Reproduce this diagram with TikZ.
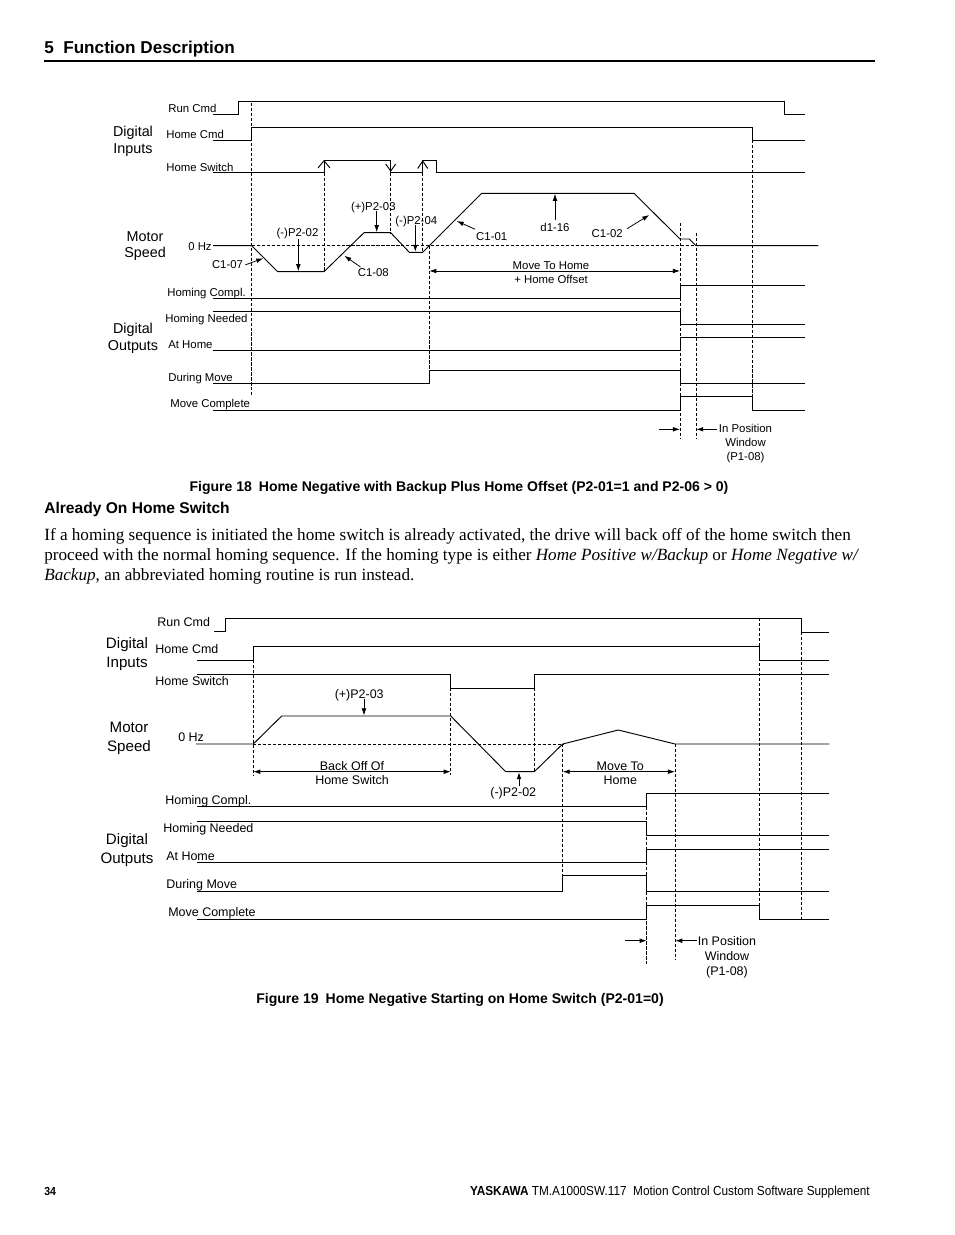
\documentclass[tikz,border=0pt]{standalone}
\usepackage{fontspec}
\setmainfont{Liberation Serif}
\setsansfont{Liberation Sans}
\newfontfamily\narrowsf[FakeStretch=0.9]{Liberation Sans}
\usetikzlibrary{arrows.meta}

\begin{document}
\begin{tikzpicture}[x=0.6414pt, y=-0.6414pt,
    every node/.append style={yshift=-1pt},
    sig/.style={line width=0.6pt, line join=miter},
    guide/.style={line width=0.45pt, dash pattern=on 2pt off 1.2pt},
    ann/.style={line width=0.5pt, -{Latex[length=4.5pt,width=3pt]}},
    dimline/.style={line width=0.5pt, {Latex[length=4.5pt,width=3pt]}-{Latex[length=4.5pt,width=3pt]}},
    lblA/.style={font=\sffamily\fontsize{7.3}{9}\selectfont, inner sep=0pt, align=center},
    lblB/.style={font=\sffamily\fontsize{8}{9.6}\selectfont, inner sep=0pt, align=center},
    grpA/.style={font=\sffamily\fontsize{9.2}{10.9}\selectfont, inner sep=0pt, align=center},
    grpB/.style={font=\sffamily\fontsize{9.7}{12.2}\selectfont, inner sep=0pt, align=center},
    body/.style={font=\fontsize{11}{13}\selectfont, inner sep=0pt, anchor=base west}]

  \fill[white] (0,0) rectangle (954,1235);
  \useasboundingbox (0,0) rectangle (954,1235);

  % Page header
  \node[font=\sffamily\bfseries\fontsize{11}{13}\selectfont, inner sep=0pt, anchor=mid west, yshift=-1pt] (title) at (44,47) {5\hspace{0.55em}Function Description};
  \draw[line width=1.7pt] (44,61) -- (875,61);

  % ================= Figure 18 =================
  % Signal names
  \node[lblA, anchor=mid west] (runA) at (168,107) {Run Cmd};
  \node[lblA, anchor=mid west] (hcmdA) at (166,133) {Home Cmd};
  \node[lblA, anchor=mid west] (hswA) at (166,166) {Home Switch};
  \node[lblA, anchor=mid east] (zeroA) at (212,245) {0 Hz};
  \node[lblA, anchor=mid west] (complA) at (167,291) {Homing Compl.};
  \node[lblA, anchor=mid west] (needA) at (165,317) {Homing Needed};
  \node[lblA, anchor=mid west] (athomeA) at (168,343) {At Home};
  \node[lblA, anchor=mid west] (duringA) at (168,376) {During Move};
  \node[lblA, anchor=mid west] (mcompA) at (170,402) {Move Complete};
  \node[grpA] (inA) at (133,139.5) {Digital\\Inputs};
  \node[grpA] (speedA) at (145,244.5) {Motor\\Speed};
  \node[grpA] (outA) at (133,336.5) {Digital\\Outputs};

  % Inputs
  \draw[sig] (212.7,114) -| (238.3,101.7) -| (784.3,114) -- (805,114);
  \draw[sig] (212.7,140) -| (251.7,127.7) -| (752.3,140) -- (805,140);
  \draw[sig] (212.7,172.7) -| (324,160.7) -| (390.7,172.7) -| (422.7,160.7) -| (436,172.7) -- (805,172.7);
  % edge marks on the home switch
  \draw[sig] (318,168) -- (324,160.7) -- (330,168);
  \draw[sig] (385.7,164) -- (390.7,171) -- (395.7,164);
  \draw[sig] (417.7,168.5) -- (422.7,161) -- (427.7,168.5);

  % Motor speed
  \draw[guide] (251.7,245.7) -- (696,245.7);
  \draw[sig] (213,245.7) -- (251.7,245.7) -- (277.7,271.7) -- (324,271.7) -- (364,232.7) -- (390.7,232.7)
     -- (409.3,252.3) -- (422.7,252.3) -- (481.7,193.3) -- (634,193.3) -- (680,239) -- (689.3,239)
     -- (696,245.7) -- (818.3,245.7);

  % Outputs
  \draw[sig] (212.7,298.3) -| (680,285) -- (805,285);
  \draw[sig] (212.7,311) -| (680,324) -- (805,324);
  \draw[sig] (212.7,350) -| (680,337.3) -- (805,337.3);
  \draw[sig] (212.7,383.3) -| (429.3,370) -| (680,383.3) -- (805,383.3);
  \draw[sig] (212.7,410) -| (680,396.7) -| (752.3,410) -- (805,410);

  % Guide lines
  \draw[guide] (251.7,103) -- (251.7,395);
  \draw[guide] (324,172.7) -- (324,271.7);
  \draw[guide] (390.7,172.7) -- (390.7,232.7);
  \draw[guide] (422.7,172.7) -- (422.7,252.3);
  \draw[guide] (429.3,245.7) -- (429.3,370);
  \draw[guide] (680,223) -- (680,439);
  \draw[guide] (696,233) -- (696,439);
  \draw[guide] (752.3,140) -- (752.3,410);

  % Parameter labels
  \node[lblA] (p202A) at (297.5,232.3) {(-)P2-02};
  \node[lblA] (p203A) at (373.3,205.5) {(+)P2-03};
  \node[lblA] (p204A) at (416.3,219.7) {(-)P2-04};
  \node[lblA] (c107A) at (227.5,263.3) {C1-07};
  \node[lblA] (c108A) at (373.3,270.8) {C1-08};
  \node[lblA] (c101A) at (491.7,235) {C1-01};
  \node[lblA] (d116A) at (555,225.8) {d1-16};
  \node[lblA] (c102A) at (607.2,232.5) {C1-02};
  \draw[ann] (298.3,239) -- (298.3,271.2);
  \draw[ann] (376.7,211) -- (376.7,232.2);
  \draw[ann] (415.3,225.5) -- (415.3,251.8);
  \draw[ann] (c107A.east) ++(2,0) -- (263.3,258.3);
  \draw[ann] (c108A.north west) ++(3,-1) -- (344.3,255.7);
  \draw[ann] (c101A.north west) ++(-1,-3) -- (456.7,221);
  \draw[ann] (d116A.north) ++(0,-3) -- (555,193.8);
  \draw[ann] (c102A.north east) ++(4,-1) -- (649.3,215);

  % Move to home span
  \draw[dimline] (429.3,271) -- (680,271);
  \node[lblA] (mvA) at (551,270.6) {Move To Home\\+ Home Offset};

  % In position window
  \draw[ann] (659,429.3) -- (680,429.3);
  \draw[ann] (716.7,429.3) -- (696.2,429.3);
  \node[lblA, font=\sffamily\fontsize{7.3}{8.9}\selectfont] (winA) at (745.5,442.2) {In Position\\Window\\(P1-08)};

  % Caption
  \node[font=\sffamily\bfseries\fontsize{9}{11}\selectfont, inner sep=0pt] (capA) at (459,486) {Figure 18\hspace{0.5em}Home Negative with Backup Plus Home Offset (P2-01=1 and P2-06 > 0)};

  % ================= Text =================
  \node[font=\sffamily\bfseries\fontsize{10}{12}\selectfont, inner sep=0pt, anchor=mid west] (sect) at (44,508) {Already On Home Switch};
  \node[body] (l1) at (44,539) {If a homing sequence is initiated the home switch is already activated, the drive will back off of the home switch then};
  \node[body] (l2) at (44,559) {proceed with the normal homing sequence. If the homing type is either \textit{Home Positive w/Backup} or \textit{Home Negative w/}};
  \node[body] (l3) at (44,579) {\textit{Backup}, an abbreviated homing routine is run instead.};

  % ================= Figure 19 =================
  % Signal names
  \node[lblB, anchor=mid west] (runB) at (157,621) {Run Cmd};
  \node[lblB, anchor=mid west] (hcmdB) at (155,648) {Home Cmd};
  \node[lblB, anchor=mid west] (hswB) at (155,680) {Home Switch};
  \node[lblB, anchor=mid west] (zeroB) at (178,736) {0 Hz};
  \node[lblB, anchor=mid west] (complB) at (165,799) {Homing Compl.};
  \node[lblB, anchor=mid west] (needB) at (163,827) {Homing Needed};
  \node[lblB, anchor=mid west] (athomeB) at (166,855) {At Home};
  \node[lblB, anchor=mid west] (duringB) at (166,883) {During Move};
  \node[lblB, anchor=mid west] (mcompB) at (168,911) {Move Complete};
  \node[grpB] (inB) at (127,652.5) {Digital\\Inputs};
  \node[grpB] (speedB) at (129,736.5) {Motor\\Speed};
  \node[grpB] (outB) at (127,848.5) {Digital\\Outputs};

  % Inputs
  \draw[sig] (214,631.7) -| (225,618.3) -| (801.7,632.3) -- (829.3,632.3);
  \draw[sig] (197.3,660) -| (253.3,646) -| (759,660) -- (829.3,660);
  \draw[sig] (197.3,674) -| (450.7,688.3) -| (534.3,674) -- (829.3,674);

  % Motor speed
  \draw[guide] (253.3,744) -- (562.7,744);
  \draw[sig] (196,744) -- (253.3,744) -- (281.7,716) -- (450.7,716) -- (505.7,771.7) -- (534.3,771.7)
     -- (562.7,744) -- (618.3,730) -- (675,744) -- (829.3,744);

  % Outputs
  \draw[sig] (196.7,806.7) -| (646.7,793.3) -- (829.3,793.3);
  \draw[sig] (196.7,821) -| (646.7,835) -- (829.3,835);
  \draw[sig] (196.7,862.3) -| (646.7,849) -- (829.3,849);
  \draw[sig] (196.7,891) -| (562.7,875.7) -| (646.7,891) -- (829.3,891);
  \draw[sig] (196.7,919) -| (646.7,905.7) -| (759,919) -- (829.3,919);

  % Guide lines
  \draw[guide] (253.3,660) -- (253.3,775);
  \draw[guide] (450.7,688.3) -- (450.7,775);
  \draw[guide] (534.3,688.3) -- (534.3,771.7);
  \draw[guide] (562.7,744) -- (562.7,875.7);
  \draw[guide] (646.7,806.7) -- (646.7,965);
  \draw[guide] (675,744) -- (675,960);
  \draw[guide] (759,618.3) -- (759,919);
  \draw[guide] (801.7,632.3) -- (801.7,920);

  % Parameter labels
  \node[lblB] (p203B) at (359.2,694) {(+)P2-03};
  \node[lblB] (p202B) at (513.3,791.7) {(-)P2-02};
  \draw[ann] (364,699.3) -- (364,715.5);
  \draw[ann] (519,786) -- (519,772.2);

  % Spans
  \draw[dimline] (253.3,771.7) -- (450.7,771.7);
  \node[lblB, font=\sffamily\fontsize{8}{9}\selectfont] (backB) at (352,771.3) {Back Off Of\\Home Switch};
  \draw[dimline] (562.7,771.7) -- (675,771.7);
  \node[lblB, font=\sffamily\fontsize{8}{9}\selectfont] (mvB) at (620.3,771.3) {Move To\\Home};

  % In position window
  \draw[ann] (625,940.7) -- (646.7,940.7);
  \draw[ann] (696.7,940.7) -- (675.3,940.7);
  \node[lblB, font=\sffamily\fontsize{8}{9.6}\selectfont] (winB) at (727,956) {In Position\\Window\\(P1-08)};

  % Caption
  \node[font=\sffamily\bfseries\fontsize{9}{11}\selectfont, inner sep=0pt] (capB) at (460,998) {Figure 19\hspace{0.5em}Home Negative Starting on Home Switch (P2-01=0)};

  % Page footer
  \node[font=\narrowsf\bfseries\fontsize{7.5}{9}\selectfont, inner sep=0pt, anchor=mid west] (pageno) at (44,1190) {34};
  \node[font=\narrowsf\fontsize{8.4}{10}\selectfont, inner sep=0pt, anchor=mid east] (foot) at (870,1190) {\textbf{YASKAWA} TM.A1000SW.117\hspace{0.5em}Motion Control Custom Software Supplement};

\end{tikzpicture}
\end{document}
